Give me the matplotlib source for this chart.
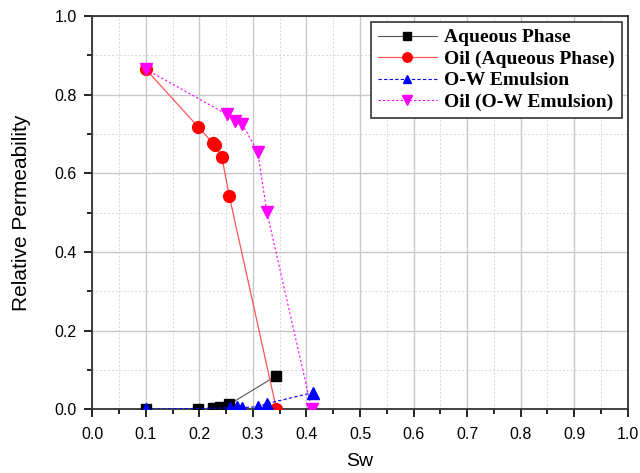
import matplotlib.pyplot as plt
from matplotlib.ticker import MultipleLocator

# Relative permeability data
sw_aq = [0.1, 0.198, 0.226, 0.239, 0.256, 0.344]
kr_aq = [0.0, 0.0, 0.003, 0.005, 0.012, 0.085]

sw_oil_aq = [0.1, 0.198, 0.226, 0.229, 0.242, 0.256, 0.344]
kr_oil_aq = [0.865, 0.718, 0.676, 0.672, 0.642, 0.542, 0.0]

sw_ow = [0.1, 0.257, 0.27, 0.279, 0.309, 0.326, 0.412]
kr_ow = [0.0, 0.003, 0.005, 0.004, 0.006, 0.014, 0.042]

sw_oil_ow = [0.1, 0.251, 0.266, 0.28, 0.309, 0.326, 0.41]
kr_oil_ow = [0.865, 0.75, 0.733, 0.725, 0.655, 0.502, 0.0]

plt.rcParams['font.family'] = ['Liberation Sans', 'DejaVu Sans']

fig = plt.figure(figsize=(6.4, 4.73), dpi=100)
ax = fig.add_axes([0.144, 0.135, 0.837, 0.831])

ax.plot(sw_aq, kr_aq, color='#555555', lw=0.8, marker='s', ms=6.5,
        mfc='black', mec='black', label='Aqueous Phase', zorder=3)
ax.plot(sw_oil_aq, kr_oil_aq, color='#ff5555', lw=0.9, marker='o', ms=8.5,
        mfc='red', mec='red', label='Oil (Aqueous Phase)', zorder=3)
ax.plot(sw_ow, kr_ow, color='blue', lw=0.8, ls=(0, (3, 2)), marker='^', ms=8,
        mfc='blue', mec='blue', label='O-W Emulsion', zorder=4)
ax.plot(sw_oil_ow, kr_oil_ow, color='magenta', lw=0.8, ls=(0, (2, 2)), marker='v', ms=8.5,
        mfc='magenta', mec='magenta', label='Oil (O-W Emulsion)', zorder=3)

ax.set_xlim(0, 1)
ax.set_ylim(0, 1)
ax.xaxis.set_major_locator(MultipleLocator(0.1))
ax.xaxis.set_minor_locator(MultipleLocator(0.05))
ax.yaxis.set_major_locator(MultipleLocator(0.2))
ax.yaxis.set_minor_locator(MultipleLocator(0.1))
ax.xaxis.set_major_formatter(plt.FormatStrFormatter('%.1f'))
ax.yaxis.set_major_formatter(plt.FormatStrFormatter('%.1f'))

ax.grid(which='major', color='#c8c8c8', lw=1.0, ls='-')
ax.grid(which='minor', color='#d8d8d8', lw=0.7, ls=(0, (2, 2)))
ax.set_axisbelow(True)

ax.tick_params(which='major', direction='out', length=6, width=1.2, labelsize=11.5,
               colors='black', pad=5)
ax.tick_params(axis='x', which='major', pad=6.5)
ax.tick_params(which='minor', direction='out', length=3.5, width=1.2)
for s in ax.spines.values():
    s.set_linewidth(1.3)
    s.set_color('#333333')

ax.set_xlabel('Sw', fontsize=14, labelpad=8)
ax.set_ylabel('Relative Permeability', fontsize=15, labelpad=17)

leg = ax.legend(loc='upper right', bbox_to_anchor=(0.989, 0.985), borderaxespad=0,
                prop={'family': 'Liberation Serif', 'weight': 'bold', 'size': 14},
                frameon=True, fancybox=False, shadow=False, edgecolor='#333333',
                framealpha=1, handlelength=3.0, handletextpad=0.4,
                labelspacing=0.2, borderpad=0.35, markerscale=0.8)
leg.get_frame().set_linewidth(1.2)

fig.savefig('out.png', dpi=100)
